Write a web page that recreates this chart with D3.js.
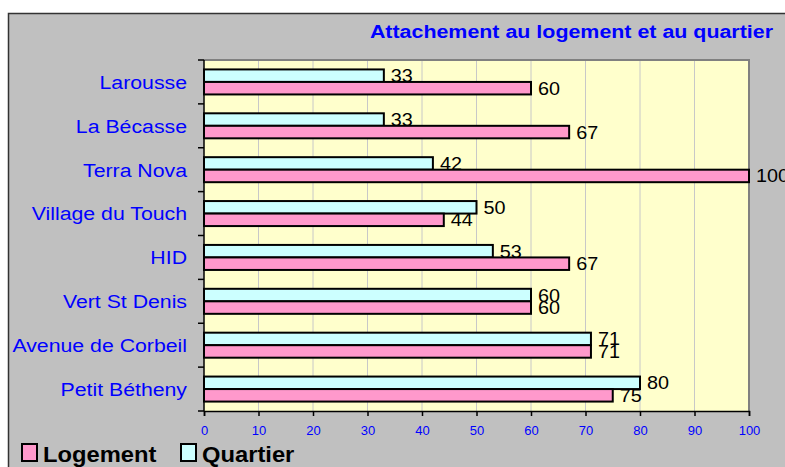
<!DOCTYPE html>
<html>
<head>
<meta charset="utf-8">
<script src="https://cdn.jsdelivr.net/npm/d3@7"></script>
<style>
  body { margin: 0; background: #fff; }
  svg { display: block; font-family: "Liberation Sans", Arial, sans-serif; }
</style>
</head>
<body>
<svg class="chart" width="785" height="467"></svg>
<script>
var sites = ["Larousse", "La Bécasse", "Terra Nova", "Village du Touch", "HID",
             "Vert St Denis", "Avenue de Corbeil", "Petit Bétheny"];
var logement = [60, 67, 100, 44, 67, 60, 71, 75];
var quartier = [33, 33, 42, 50, 53, 60, 71, 80];
var xTicks = [0, 10, 20, 30, 40, 50, 60, 70, 80, 90, 100];

var series = [
  {name: "Quartier", values: quartier, color: "#ccffff"},
  {name: "Logement", values: logement, color: "#ff99cc"}
];

var svg = d3.select(".chart");

// the original text is a bit wider than Liberation Sans, stretch it
function place(px, py, sx) {
  return "translate(" + px + "," + py + ") scale(" + sx + ",1)";
}

// outer frame
svg.append("rect")
  .attr("x", 8.5).attr("y", 13.5)
  .attr("width", 790).attr("height", 470)
  .attr("fill", "#c0c0c0")
  .attr("stroke", "#333").attr("stroke-width", 1.5);

var plotL = 204, plotR = 749, plotT = 60, plotB = 411;

var x = d3.scaleLinear().domain([0, 100]).range([plotL, plotR]);
var y = d3.scaleBand().domain(sites).range([plotT, plotB]).paddingInner(0.43).paddingOuter(0.215);
var sub = d3.scaleBand().domain(series.map(function(s) { return s.name; }))
  .range([0, y.bandwidth()]);

// plot area
svg.append("rect")
  .attr("x", plotL).attr("y", plotT)
  .attr("width", plotR - plotL).attr("height", plotB - plotT)
  .attr("fill", "#ffffcc");

svg.append("g").selectAll("line")
  .data(xTicks.slice(1))
  .enter().append("line")
  .attr("x1", function(d) { return x(d); })
  .attr("x2", function(d) { return x(d); })
  .attr("y1", plotT).attr("y2", plotB)
  .attr("stroke", "#c8c8c8").attr("stroke-width", 1);

// grey border top / right
svg.append("path")
  .attr("d", "M" + plotL + "," + plotT + "H" + plotR + "V" + plotB)
  .attr("fill", "none").attr("stroke", "#808080").attr("stroke-width", 2);

// bars
var groups = svg.append("g").selectAll("g")
  .data(sites)
  .enter().append("g")
  .attr("transform", function(d) { return "translate(0," + y(d) + ")"; });

series.forEach(function(s) {
  groups.append("rect")
    .attr("x", x(0))
    .attr("y", function(d) { return sub(s.name); })
    .attr("width", function(d, i) { return x(s.values[i]) - x(0); })
    .attr("height", sub.bandwidth())
    .attr("fill", s.color)
    .attr("stroke", "#000").attr("stroke-width", 2);
});
series.forEach(function(s) {
  groups.append("text")
    .attr("transform", function(d, i) {
      return place(x(s.values[i]) + 7, sub(s.name) + sub.bandwidth() / 2, 1.1);
    })
    .attr("dy", "0.36em")
    .attr("font-size", 18)
    .attr("fill", "#000")
    .text(function(d, i) { return s.values[i]; });
});

// y axis
var yAxis = svg.append("g").attr("transform", "translate(" + plotL + ",0)");
yAxis.append("line").attr("x1", 0).attr("x2", 0).attr("y1", plotT).attr("y2", plotB)
  .attr("stroke", "#000").attr("stroke-width", 1.5);
var bounds = sites.map(function(d) { return y(d) - y.step() * y.paddingInner() / 2; });
bounds.push(plotB);
yAxis.selectAll(".tk").data(bounds).enter().append("line")
  .attr("x1", -6).attr("x2", 0)
  .attr("y1", function(d) { return d; }).attr("y2", function(d) { return d; })
  .attr("stroke", "#000").attr("stroke-width", 1.5);
yAxis.selectAll(".lb").data(sites).enter().append("text")
  .attr("transform", function(d) { return place(-17, y(d) + y.bandwidth() / 2, 1.12); })
  .attr("dy", "0.36em")
  .attr("text-anchor", "end")
  .attr("font-size", 19)
  .attr("fill", "#0000ff")
  .text(function(d) { return d; });

// x axis
var xAxis = d3.axisBottom(x).tickValues(xTicks).tickSize(5).tickPadding(10);
var gx = svg.append("g").attr("transform", "translate(0," + plotB + ")").call(xAxis);
gx.select(".domain").attr("stroke", "#000").attr("stroke-width", 1.5);
gx.selectAll(".tick line").attr("stroke", "#000").attr("stroke-width", 1.5);
gx.selectAll(".tick text").attr("fill", "#0000ff").attr("font-size", 13)
  .attr("font-family", "Liberation Sans, Arial, sans-serif");

// title
svg.append("text")
  .attr("transform", place(773, 38, 1.19))
  .attr("text-anchor", "end")
  .attr("font-size", 18).attr("font-weight", "bold")
  .attr("fill", "#0000ff")
  .text("Attachement au logement et au quartier");

// legend
var legendItems = [
  {name: "Logement", color: "#ff99cc", x: 21},
  {name: "Quartier", color: "#ccffff", x: 180}
];
var lg = svg.append("g").selectAll("g").data(legendItems).enter().append("g")
  .attr("transform", function(d) { return "translate(" + d.x + ",443)"; });
lg.append("rect").attr("x", 1).attr("y", 1).attr("width", 15).attr("height", 17)
  .attr("fill", function(d) { return d.color; })
  .attr("stroke", "#000").attr("stroke-width", 2);
lg.append("text").attr("transform", place(22, 19, 1.08))
  .attr("font-size", 22).attr("font-weight", "bold").attr("fill", "#000")
  .text(function(d) { return d.name; });
</script>
</body>
</html>
